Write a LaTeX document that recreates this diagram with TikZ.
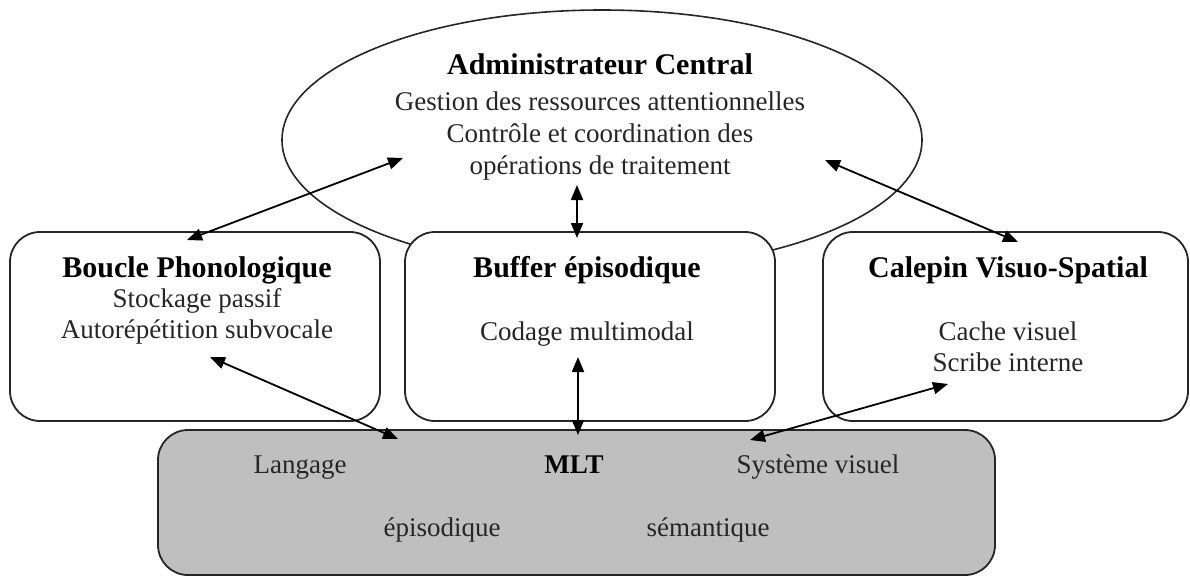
\documentclass[tikz,border=0pt]{standalone}
\usepackage{fontspec}
\setmainfont{Liberation Serif}
\usetikzlibrary{shapes.geometric,arrows.meta}

\begin{document}
\begin{tikzpicture}[x=0.5pt,y=-0.5pt,
  frame/.style={draw=black!85,line width=0.9pt,rounded corners=15pt,fill=white,inner sep=0pt},
  titletxt/.style={anchor=base,inner sep=0pt,font=\fontsize{15pt}{18pt}\selectfont\bfseries},
  bodytxt/.style={anchor=base,inner sep=0pt,text=black!85,font=\fontsize{13.5pt}{16pt}\selectfont},
  link/.style={line width=0.9pt,{Triangle[length=7.5pt,width=6pt]}-{Triangle[length=7.5pt,width=6pt]}}]

\useasboundingbox (0,0) rectangle (1190,578);

% central executive
\node[draw=black!85,line width=0.8pt,ellipse,fill=white,inner sep=0pt,
      minimum width=320pt,minimum height=130pt] (ac) at (602,140) {};
\node[titletxt] (ac-t)  at (600,75)  {Administrateur Central};
\node[bodytxt]  (ac-l1) at (600,110) {Gestion des ressources attentionnelles};
\node[bodytxt]  (ac-l2) at (600,142) {Contrôle et coordination des};
\node[bodytxt]  (ac-l3) at (600,174) {opérations de traitement};

% slave systems
\node[frame,minimum width=185pt,minimum height=94.5pt] (bp) at (195,326.5) {};
\node[frame,minimum width=185pt,minimum height=94.5pt] (be) at (590,326.5) {};
\node[frame,minimum width=182.5pt,minimum height=94.5pt] (cv) at (1005.5,326.5) {};

\node[titletxt] (bp-t)  at (197,277) {Boucle Phonologique};
\node[bodytxt]  (bp-l1) at (197,307) {Stockage passif};
\node[bodytxt]  (bp-l2) at (197,338) {Autorépétition subvocale};

\node[titletxt] (be-t)  at (587,277) {Buffer épisodique};
\node[bodytxt]  (be-l1) at (587,340) {Codage multimodal};

\node[titletxt] (cv-t)  at (1008,277) {Calepin Visuo-Spatial};
\node[bodytxt]  (cv-l1) at (1008,340) {Cache visuel};
\node[bodytxt]  (cv-l2) at (1008,371) {Scribe interne};

% long-term memory
\node[frame,fill=black!25,minimum width=418.5pt,minimum height=72.5pt] (mlt) at (576.5,502.5) {};
\node[bodytxt] (mlt-a) at (300,473) {Langage};
\node[titletxt,font=\fontsize{13.5pt}{16pt}\selectfont\bfseries] (mlt-t) at (574,473) {MLT};
\node[bodytxt] (mlt-b) at (818,473) {Système visuel};
\node[bodytxt] (mlt-c) at (442,536) {épisodique};
\node[bodytxt] (mlt-d) at (708,536) {sémantique};

% arrow end points
\coordinate (ac-w)  at (403,158);
\coordinate (ac-e)  at (825,160);
\coordinate (ac-s)  at (577,185);
\coordinate (bp-n)  at (187,240);
\coordinate (cv-n)  at (1018,242);
\coordinate (be-n)  at (577,238);
\coordinate (bp-s)  at (210,357);
\coordinate (be-s)  at (578,357);
\coordinate (cv-s)  at (948,384);
\coordinate (mlt-w) at (398,439);
\coordinate (mlt-n) at (578,435);
\coordinate (mlt-e) at (750,440);

\draw[link] (bp-n) -- (ac-w);
\draw[link] (cv-n) -- (ac-e);
\draw[link] (be-n) -- (ac-s);
\draw[link] (bp-s) -- (mlt-w);
\draw[link] (be-s) -- (mlt-n);
\draw[link] (cv-s) -- (mlt-e);
\end{tikzpicture}
\end{document}
